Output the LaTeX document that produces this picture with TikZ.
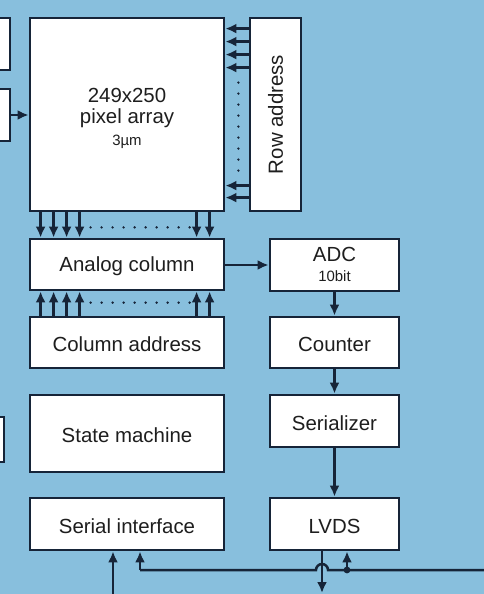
\documentclass[tikz,border=0pt]{standalone}
\usepackage{fontspec}
\setmainfont{Liberation Sans}
\usetikzlibrary{arrows.meta}
\definecolor{bgblue}{RGB}{136,191,221}
\definecolor{navy}{RGB}{22,36,56}
\definecolor{txt}{RGB}{30,30,30}
\newcommand{\lowr}[2]{\raisebox{-#1}[\height][\depth]{#2}}
\tikzset{
  box/.style={draw=navy, line width=2.8bp, fill=white, inner sep=0pt, text=txt,
    font=\fontsize{20.5}{24}\selectfont, align=center},
  arr/.style={draw=navy, line width=2.5bp, -{Latex[length=11bp,width=10bp]}},
  wire/.style={draw=navy, line width=2.5bp},
  dots/.style={draw=navy, line width=2.6bp, line cap=round, dash pattern=on 0bp off 11bp},
}
\begin{document}
\begin{tikzpicture}[x=1bp,y=-1bp]
\useasboundingbox (0,0) rectangle (484,594);
\clip (0,0) rectangle (484,594);
\fill[bgblue] (0,0) rectangle (484,594);

% partial boxes on the left
\node[box, minimum width=40bp, minimum height=52bp] (l1) at (-10,44) {};
\node[box, minimum width=40bp, minimum height=52bp] (l2) at (-10,115) {};
\node[box, minimum width=40bp, minimum height=45bp] (l3) at (-16,439.5) {};

% main boxes
\node[box, minimum width=194bp, minimum height=193bp] (pa) at (127,114.5)
  {\lowr{5bp}{\begin{tabular}{@{}c@{}}249x250\\[-3bp]pixel array\\[-2bp]{\fontsize{15}{17}\selectfont 3µm}\end{tabular}}};
\node[box, minimum width=51bp, minimum height=193bp] (ra) at (275.5,114.5)
  {\rotatebox{90}{Row address}};
\node[box, minimum width=194bp, minimum height=51bp] (ac) at (127,264.5) {\lowr{2bp}{Analog column}};
\node[box, minimum width=194bp, minimum height=51bp] (ca) at (127,342.5) {\lowr{2bp}{Column address}};
\node[box, minimum width=194bp, minimum height=77bp] (sm) at (127,433.5) {\lowr{2bp}{State machine}};
\node[box, minimum width=194bp, minimum height=52bp] (si) at (127,524) {\lowr{2bp}{Serial interface}};

\node[box, minimum width=129bp, minimum height=52bp] (adc) at (334.5,265)
  {\lowr{2bp}{\begin{tabular}{@{}c@{}}ADC\\[-4bp]{\fontsize{15}{17}\selectfont 10bit}\end{tabular}}};
\node[box, minimum width=129bp, minimum height=51bp] (cnt) at (334.5,342.5) {\lowr{2bp}{Counter}};
\node[box, minimum width=129bp, minimum height=52bp] (ser) at (334.5,421) {\lowr{2bp}{Serializer}};
\node[box, minimum width=129bp, minimum height=52bp] (lvds) at (334.5,524) {\lowr{2bp}{LVDS}};

% left input arrow
\draw[arr] (l2.east) -- (pa.west |- l2.east);

% row address -> pixel array
\foreach \d in {12,25,38,51,169,181}
  \draw[arr] ([yshift=-\d bp]ra.north west) -- ([yshift=-\d bp]pa.north east);
\draw[dots] ([xshift=13bp,yshift=-66bp]pa.north east) -- ([xshift=13bp,yshift=-162bp]pa.north east);

% pixel array -> analog column
\foreach \d in {12,25,38,51,168,181}
  \draw[arr] ([xshift=\d bp]pa.south west) -- ([xshift=\d bp]ac.north west);
\draw[dots] ([xshift=62bp,yshift=-15bp]pa.south west) -- ([xshift=162bp,yshift=-15bp]pa.south west);

% column address -> analog column
\foreach \d in {12,25,38,51,168,181}
  \draw[arr] ([xshift=\d bp]ca.north west) -- ([xshift=\d bp]ac.south west);
\draw[dots] ([xshift=62bp,yshift=13bp]ca.north west) -- ([xshift=162bp,yshift=13bp]ca.north west);

% data path
\draw[arr] (ac.east |- adc.west) -- (adc.west);
\draw[arr] (adc.south) -- (cnt.north);
\draw[arr] (cnt.south) -- (ser.north);
\draw[arr] (ser.south) -- (lvds.north);

% bottom wiring
\coordinate (rend) at (484,570);
\coordinate (jn) at (347,570);
\coordinate (sc) at (140,570);
\coordinate (b1) at (113,594);
\coordinate (b2) at (322,593);
\draw[wire] (rend) -- (328,570) arc[start angle=0,end angle=180,radius=6bp] -- (sc);
\draw[arr] (sc) -- (sc |- si.south);
\draw[arr] (b1) -- (b1 |- si.south);
\draw[arr] (lvds.south -| b2) -- (b2);
\draw[arr] (jn) -- (jn |- lvds.south);
\fill[navy] (jn) circle[radius=3.4bp];
\end{tikzpicture}
\end{document}
